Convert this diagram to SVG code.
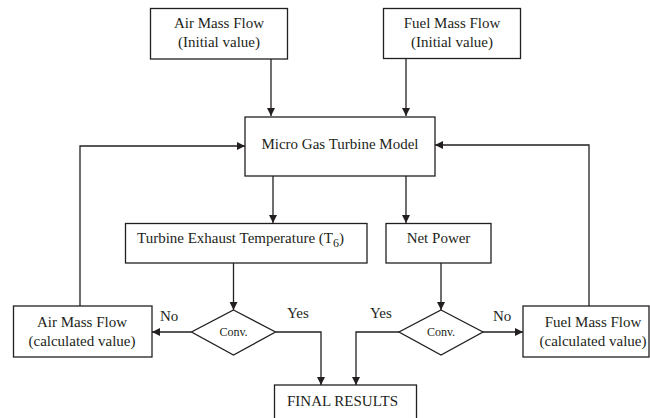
<svg xmlns="http://www.w3.org/2000/svg" width="650" height="418" viewBox="0 0 650 418">
<defs>
<style>
.box{fill:#fff;stroke:#231f20;stroke-width:1.3}
.ln{fill:none;stroke:#231f20;stroke-width:1.3}
text{font-family:"Liberation Serif","Times New Roman",serif;font-size:15px;fill:#231f20}
.c{text-anchor:middle}
.sm{font-size:12px}
</style>
<marker id="ah" viewBox="0 0 10 10" refX="10" refY="5" markerWidth="8" markerHeight="8" markerUnits="userSpaceOnUse" orient="auto">
<path d="M0,0 L10,5 L0,10 Z" fill="#231f20"/>
</marker>
</defs>
<rect width="650" height="418" fill="#fff"/>
<g id="connectors">
<path class="ln" d="M271,59 V116" marker-end="url(#ah)"/>
<path class="ln" d="M406,58.5 V116" marker-end="url(#ah)"/>
<path class="ln" d="M273,176 V223" marker-end="url(#ah)"/>
<path class="ln" d="M406,176 V223" marker-end="url(#ah)"/>
<path class="ln" d="M233.5,263 V310" marker-end="url(#ah)"/>
<path class="ln" d="M441,263 V310" marker-end="url(#ah)"/>
<path class="ln" d="M191.5,332 H152" marker-end="url(#ah)"/>
<path class="ln" d="M275.5,332 H321 V385" marker-end="url(#ah)"/>
<path class="ln" d="M399,332 H356 V385" marker-end="url(#ah)"/>
<path class="ln" d="M483,332 H523" marker-end="url(#ah)"/>
<path class="ln" d="M80,306 V146 H245" marker-end="url(#ah)"/>
<path class="ln" d="M589,306 V145 H435" marker-end="url(#ah)"/>
</g>
<g id="air-init">
<rect class="box" x="150.5" y="8.5" width="137" height="50.5"/>
<text class="c" x="219" y="28">Air Mass Flow</text>
<text class="c" x="219" y="47">(Initial value)</text>
</g>
<g id="fuel-init">
<rect class="box" x="383.5" y="8.5" width="137" height="50"/>
<text class="c" x="452" y="28">Fuel Mass Flow</text>
<text class="c" x="452" y="47">(Initial value)</text>
</g>
<g id="model">
<rect class="box" x="245" y="117" width="190" height="59"/>
<text class="c" x="340" y="149">Micro Gas Turbine Model</text>
</g>
<g id="turbine-exhaust">
<rect class="box" x="125.5" y="223.5" width="241.5" height="39.5"/>
<text x="137" y="243">Turbine Exhaust Temperature (T<tspan class="sm" dy="4">6</tspan><tspan dy="-4">)</tspan></text>
</g>
<g id="net-power">
<rect class="box" x="386" y="223.5" width="105" height="39.5"/>
<text class="c" x="438.5" y="243">Net Power</text>
</g>
<g id="conv-left">
<path class="box" d="M233.5,310 L275.5,332 L233.5,355 L191.5,332 Z"/>
<text class="c sm" x="233.5" y="336">Conv.</text>
</g>
<g id="conv-right">
<path class="box" d="M441,310 L483,332 L441,355 L399,332 Z"/>
<text class="c sm" x="441" y="336">Conv.</text>
</g>
<g id="air-calc">
<rect class="box" x="13.5" y="306" width="138.5" height="51"/>
<text class="c" x="82" y="327">Air Mass Flow</text>
<text class="c" x="82" y="346">(calculated value)</text>
</g>
<g id="fuel-calc">
<rect class="box" x="523" y="306" width="126" height="51"/>
<text class="c" x="593" y="327">Fuel Mass Flow</text>
<text class="c" x="593" y="346">(calculated value)</text>
</g>
<g id="final">
<rect class="box" x="274.5" y="385" width="142" height="45"/>
<text x="287" y="406" textLength="111" lengthAdjust="spacingAndGlyphs">FINAL RESULTS</text>
</g>
<g id="labels">
<text x="160" y="321">No</text>
<text x="287" y="318">Yes</text>
<text x="370" y="318">Yes</text>
<text x="493" y="321">No</text>
</g>
</svg>
